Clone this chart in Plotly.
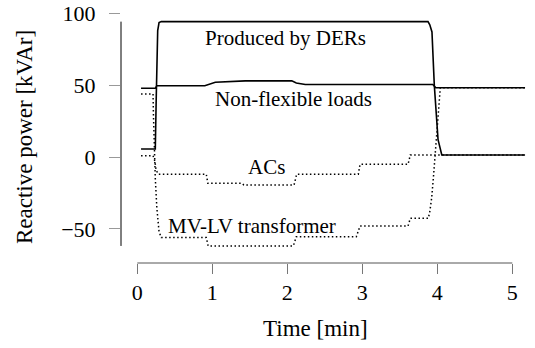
import plotly.graph_objects as go

# Time axis in minutes, reactive power in kVAr
t_der = [0.05, 0.24, 0.252, 0.262, 0.272, 0.29, 0.32, 3.876, 3.90, 3.929, 3.96, 4.01, 4.06, 5.17]
q_der = [5.6, 5.6, 40.0, 70.0, 88.0, 93.5, 94.2, 94.2, 92.0, 87.0, 50.0, 12.0, 1.4, 1.4]

t_load = [0.05, 0.24, 0.26, 0.90, 1.04, 1.44, 2.06, 2.12, 2.24, 3.94, 3.98, 5.17]
q_load = [47.8, 47.8, 49.6, 49.6, 52.0, 53.0, 53.0, 51.5, 50.4, 50.4, 48.2, 48.2]

t_ac = [0.05, 0.21, 0.235, 0.25, 0.28, 0.92, 0.94, 1.40, 1.42, 2.09, 2.125,
        2.947, 2.97, 3.61, 3.64, 5.17]
q_ac = [0.9, 0.9, -3.0, -9.0, -12.0, -12.0, -18.3, -18.3, -19.5, -19.5, -12.0,
        -12.0, -5.1, -5.1, 1.4, 1.4]

t_trafo = [0.05, 0.21, 0.215, 0.225, 0.24, 0.26, 0.29, 0.32, 0.92, 0.945, 2.08, 2.12,
           2.92, 2.97, 3.61, 3.64, 3.88, 3.90, 3.925, 3.95, 3.975, 4.0, 4.02, 4.04, 5.17]
q_trafo = [43.8, 43.8, 30.0, 5.0, -15.0, -35.0, -52.0, -56.1, -56.1, -61.9, -61.9, -55.5,
           -55.5, -48.0, -48.0, -42.7, -42.7, -38.0, -28.5, -13.0, 3.0, 22.0, 38.0, 48.2, 48.2]

x_ticks = [0, 1, 2, 3, 4, 5]
y_ticks = [-50, 0, 50, 100]

SERIF = "Liberation Serif"
solid = dict(color="black", width=1.6)
dotted = dict(color="black", width=1.5, dash="1.5px,2.5px")

fig = go.Figure()
fig.add_trace(go.Scatter(x=t_der, y=q_der, mode="lines", line=solid, name="Produced by DERs"))
fig.add_trace(go.Scatter(x=t_load, y=q_load, mode="lines", line=solid, name="Non-flexible loads"))
fig.add_trace(go.Scatter(x=t_ac, y=q_ac, mode="lines", line=dotted, name="ACs"))
fig.add_trace(go.Scatter(x=t_trafo, y=q_trafo, mode="lines", line=dotted, name="MV-LV transformer"))

# Curve labels
labels = [
    ("Produced by DERs", 1.973, 82.8),
    ("Non-flexible loads", 2.087, 40.4),
    ("ACs", 1.72, -6.75),
    ("MV-LV transformer", 1.529, -48.2),
]
for text, lx, ly in labels:
    fig.add_annotation(x=lx, y=ly, text=text, showarrow=False,
                       xanchor="center", yanchor="middle",
                       font=dict(family=SERIF, size=21, color="black"))

# Axis lines: x spans the tick range, y spans the data range
all_q = q_der + q_load + q_ac + q_trafo
fig.add_shape(type="line", xref="x", yref="paper", x0=min(x_ticks), x1=max(x_ticks),
              y0=0, y1=0, line=dict(color="#555", width=1))
fig.add_shape(type="line", xref="paper", yref="y", x0=0, x1=0,
              y0=min(all_q), y1=max(all_q), line=dict(color="black", width=1))

# Axis titles
fig.add_annotation(xref="paper", yref="paper", x=0.4763, y=-0.2588, text="Time [min]",
                   showarrow=False, xanchor="center", yanchor="middle",
                   font=dict(family=SERIF, size=23, color="black"))
fig.add_annotation(xref="paper", yref="paper", x=-0.2372, y=0.494,
                   text="Reactive power [kVAr]", textangle=-90,
                   showarrow=False, xanchor="center", yanchor="middle",
                   font=dict(family=SERIF, size=23, color="black"))

fig.update_layout(
    width=535, height=348,
    margin=dict(l=121, r=5, t=8, b=85),
    paper_bgcolor="white", plot_bgcolor="white",
    showlegend=False,
    font=dict(family=SERIF, size=22, color="black"),
)
fig.update_xaxes(range=[-0.2173, 5.236], tickvals=x_ticks, ticks="outside", ticklen=10,
                 tickcolor="#777", showline=False, showgrid=False, zeroline=False,
                 automargin=False,
                 ticklabelstandoff=0, tickfont=dict(family=SERIF, size=22, color="black"))
fig.update_yaxes(range=[-73.77, 103.69], tickvals=y_ticks, ticks="outside", ticklen=11,
                 tickcolor="#999", showline=False, showgrid=False, zeroline=False,
                 automargin=False,
                 ticklabelstandoff=9, tickfont=dict(family=SERIF, size=22, color="black"))

fig.write_html("out.html")
